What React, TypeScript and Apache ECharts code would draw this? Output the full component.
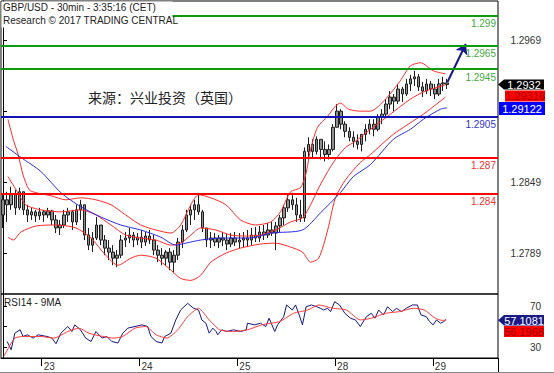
import React, { useEffect, useRef } from 'react';
import * as echarts from 'echarts';

const titleLines = ['GBP/USD - 30min - 3:35:16 (CET)', 'Research © 2017 TRADING CENTRAL'];
const sourceNote = '来源：兴业投资（英国）';
const rsiTitle = 'RSI14 - 9MA';

const slotCount = 122;
const dayStartIdx = [10, 34, 58, 82, 106];
const dayLabels = ['23', '24', '25', '28', '29'];

// [open, close, low, high]
const ohlc = [
  [1.28217, 1.28345, 1.28107, 1.28388], [1.28345, 1.28303, 1.28158, 1.28413], [1.28303, 1.28388, 1.2826, 1.28456],
  [1.28388, 1.28277, 1.28217, 1.2843], [1.28277, 1.28413, 1.2826, 1.28447], [1.28413, 1.2826, 1.28217, 1.28413],
  [1.2826, 1.28217, 1.28158, 1.28303], [1.28217, 1.28243, 1.28175, 1.28277], [1.28243, 1.28209, 1.28158, 1.2826],
  [1.28209, 1.28243, 1.28175, 1.28277], [1.28243, 1.28217, 1.28158, 1.2826], [1.28217, 1.28251, 1.28192, 1.28277],
  [1.28251, 1.28175, 1.28132, 1.2826], [1.28175, 1.28107, 1.28064, 1.28217], [1.28107, 1.28132, 1.28047, 1.28175],
  [1.28132, 1.28217, 1.28107, 1.2826], [1.28217, 1.28243, 1.28158, 1.28277], [1.28243, 1.28158, 1.2809, 1.2826],
  [1.28158, 1.2826, 1.28132, 1.28303], [1.2826, 1.28303, 1.28175, 1.28345], [1.28303, 1.28047, 1.28005, 1.28303],
  [1.28047, 1.27962, 1.2792, 1.28107], [1.27962, 1.28022, 1.27903, 1.28073], [1.28022, 1.28132, 1.28005, 1.282],
  [1.28132, 1.28005, 1.27962, 1.28132], [1.28005, 1.27937, 1.27877, 1.28047], [1.27937, 1.27903, 1.27835, 1.28005],
  [1.27903, 1.27852, 1.27792, 1.27962], [1.27852, 1.27877, 1.27775, 1.2792], [1.27877, 1.28005, 1.27852, 1.28047],
  [1.28005, 1.28022, 1.27945, 1.28073], [1.28022, 1.28047, 1.27979, 1.28107], [1.28047, 1.28005, 1.27945, 1.28073],
  [1.28005, 1.2803, 1.27962, 1.28064], [1.2803, 1.27988, 1.27937, 1.2809], [1.27988, 1.28039, 1.27954, 1.28073],
  [1.28039, 1.28005, 1.27971, 1.2809], [1.28005, 1.2792, 1.27877, 1.28047], [1.2792, 1.27877, 1.27818, 1.27962],
  [1.27877, 1.27852, 1.27792, 1.27937], [1.27852, 1.27903, 1.27784, 1.2792], [1.27903, 1.27818, 1.2775, 1.27937],
  [1.27818, 1.27877, 1.27724, 1.2792], [1.27877, 1.27988, 1.27835, 1.28022], [1.27988, 1.2809, 1.27937, 1.28132],
  [1.2809, 1.28217, 1.28073, 1.2826], [1.28217, 1.2826, 1.28132, 1.28303], [1.2826, 1.28303, 1.28175, 1.28345],
  [1.28303, 1.28243, 1.28217, 1.28388], [1.28243, 1.28107, 1.28073, 1.2826], [1.28107, 1.28005, 1.27945, 1.28107],
  [1.28005, 1.28022, 1.27937, 1.28073], [1.28022, 1.27988, 1.27954, 1.28064], [1.27988, 1.28022, 1.27937, 1.28047],
  [1.28022, 1.28005, 1.27954, 1.28073], [1.28005, 1.27971, 1.2792, 1.28056], [1.27971, 1.28022, 1.27945, 1.28064],
  [1.28022, 1.27988, 1.27954, 1.28073], [1.27988, 1.28005, 1.27937, 1.28064], [1.28005, 1.28022, 1.27945, 1.28073],
  [1.28022, 1.28005, 1.27945, 1.2809], [1.28005, 1.28047, 1.27962, 1.28107], [1.28047, 1.28022, 1.27988, 1.28115],
  [1.28022, 1.28073, 1.27988, 1.28124], [1.28073, 1.28047, 1.28005, 1.28132], [1.28047, 1.2809, 1.28022, 1.28149],
  [1.2809, 1.28064, 1.28039, 1.28158], [1.28064, 1.28124, 1.2792, 1.28158], [1.28124, 1.28192, 1.28073, 1.28217],
  [1.28192, 1.28277, 1.28132, 1.28303], [1.28277, 1.28345, 1.28243, 1.28388], [1.28345, 1.28303, 1.2826, 1.28405],
  [1.28303, 1.28217, 1.28158, 1.28362], [1.28217, 1.28192, 1.28158, 1.28345], [1.28192, 1.28754, 1.28158, 1.28788],
  [1.28754, 1.28813, 1.28686, 1.28873], [1.28813, 1.28754, 1.28703, 1.28856], [1.28754, 1.28856, 1.28728, 1.28881],
  [1.28856, 1.28771, 1.28686, 1.28856], [1.28771, 1.28728, 1.28669, 1.28839], [1.28728, 1.28771, 1.28686, 1.28813],
  [1.28771, 1.28958, 1.28754, 1.28984], [1.28958, 1.29094, 1.28958, 1.29154], [1.29094, 1.28984, 1.28941, 1.29111],
  [1.28984, 1.28924, 1.28873, 1.29009], [1.28924, 1.28873, 1.28839, 1.28958], [1.28873, 1.28839, 1.28788, 1.28924],
  [1.28839, 1.28813, 1.28771, 1.28898], [1.28813, 1.28898, 1.28754, 1.28898], [1.28898, 1.28941, 1.28839, 1.28984],
  [1.28941, 1.28984, 1.28898, 1.29026], [1.28984, 1.28941, 1.28881, 1.29026], [1.28941, 1.29043, 1.28924, 1.29069],
  [1.29043, 1.29069, 1.28984, 1.29111], [1.29069, 1.29154, 1.29043, 1.29196], [1.29154, 1.29213, 1.29111, 1.29264],
  [1.29213, 1.29179, 1.29094, 1.29239], [1.29179, 1.29281, 1.29154, 1.29324], [1.29281, 1.29239, 1.29171, 1.29299],
  [1.29239, 1.29324, 1.29222, 1.29367], [1.29324, 1.29367, 1.29264, 1.29401], [1.29367, 1.29384, 1.29307, 1.29435],
  [1.29384, 1.29299, 1.29264, 1.29409], [1.29299, 1.29264, 1.29213, 1.29341], [1.29264, 1.29324, 1.29239, 1.29367],
  [1.29324, 1.29281, 1.29222, 1.2935], [1.29281, 1.29239, 1.29196, 1.29324], [1.29239, 1.29324, 1.29222, 1.29367],
  [1.29324, 1.29333, 1.29264, 1.29384], [1.29333, 1.2932, 1.29281, 1.29367],
];

// [bar index, price]
const bbUpper = [
  [1.2, 1.29026], [2.5, 1.28856], [3.7, 1.28728], [4.9, 1.28558], [6.4, 1.2843], [8.1, 1.28405], [11.8, 1.28379],
  [15.4, 1.28345], [19.1, 1.28362], [22.8, 1.28345], [26.5, 1.28303], [30.1, 1.28217], [33.8, 1.28132], [37.5, 1.2809],
  [41.2, 1.28064], [43.6, 1.28132], [46.1, 1.28303], [48, 1.28388], [51, 1.28362], [54.7, 1.28303], [58.3, 1.28175],
  [62, 1.28132], [65.7, 1.28158], [68.1, 1.28243], [70.6, 1.28413], [73, 1.28447], [74.3, 1.28558], [75.5, 1.28771],
  [77.2, 1.28958], [79.7, 1.29052], [81.6, 1.29137], [82.8, 1.29162], [84.8, 1.29111], [87.7, 1.29094], [90.2, 1.29094],
  [93.9, 1.29196], [97.5, 1.2935], [100, 1.29477], [102.5, 1.29503], [105.6, 1.29435], [108.6, 1.29409],
];
const bbMid = [
  [1.2, 1.28541], [3.2, 1.2843], [5.6, 1.28303], [9.3, 1.2826], [14.2, 1.28243], [19.1, 1.2826], [22.8, 1.28217],
  [26.5, 1.28132], [30.1, 1.28047], [33.8, 1.28022], [37.5, 1.28005], [41.2, 1.27962], [43.6, 1.27979], [46.1, 1.28047],
  [48.5, 1.28107], [52.2, 1.2809], [55.9, 1.28047], [59.6, 1.28039], [63.2, 1.28047], [66.9, 1.2809], [70.6, 1.28158],
  [73.5, 1.28192], [75.5, 1.28303], [77.5, 1.28447], [79.7, 1.28584], [81.6, 1.28686], [84.1, 1.28788], [86.5, 1.28839],
  [90.2, 1.28941], [95.1, 1.29069], [100, 1.29196], [103.7, 1.29264], [108.6, 1.29316],
];
const bbLower = [
  [1.2, 1.2803], [2.5, 1.28005], [4.4, 1.28073], [8.1, 1.28124], [13, 1.28132], [17.9, 1.28107], [21.6, 1.28022],
  [25.2, 1.27877], [28.2, 1.27792], [31.4, 1.27852], [33.8, 1.27877], [37.5, 1.27852], [40.7, 1.27767], [43.6, 1.27681],
  [46.1, 1.27664], [48.5, 1.27707], [51, 1.27818], [54.7, 1.27894], [58.3, 1.27937], [63.2, 1.27971], [66.9, 1.27979],
  [70.6, 1.27945], [73.5, 1.27903], [75.5, 1.27818], [77.5, 1.27852], [79.7, 1.2809], [81.6, 1.28362], [84.1, 1.28516],
  [87.7, 1.2866], [90.2, 1.28728], [95.8, 1.28898], [103.2, 1.29069], [108.6, 1.29213],
];
const movingAvg = [
  [0.7, 1.28796], [4.4, 1.28703], [9.3, 1.28584], [14.2, 1.28405], [19.1, 1.28286], [24, 1.282], [28.9, 1.28132],
  [33.8, 1.2809], [38.7, 1.2803], [42.4, 1.27962], [44.9, 1.27979], [48.5, 1.28005], [53.4, 1.28022], [60.8, 1.28022],
  [65.7, 1.28064], [73.5, 1.2809], [77.9, 1.28234], [82.8, 1.28405], [86, 1.28541], [90.2, 1.28643], [95.8, 1.28856],
  [100, 1.28941], [103.2, 1.29026], [107.4, 1.29111], [109, 1.29122],
];

const rsi = [
  [1, 35.4], [2, 27.4], [2.9, 43.5], [4.2, 46.8], [4.9, 40.3], [6, 41.9], [7.4, 38.7], [8.6, 41.9], [10.8, 40.3],
  [12, 38.7], [13, 33.2], [14.2, 43.5], [15.9, 50], [16.9, 45.1], [17.6, 51.6], [19, 46.8], [20.3, 38.7], [21.6, 35.4],
  [22.8, 45.1], [24.3, 38.7], [25.5, 40.3], [26.7, 35.4], [28.2, 33.9], [29.4, 43.5], [30.6, 48.4], [32.4, 50],
  [34.1, 51.6], [35.5, 50], [36.3, 40.3], [37.6, 35.4], [39, 33.9], [39.7, 40.3], [41.2, 43.5], [42.4, 56.4],
  [43.6, 66.1], [45.3, 72.6], [46.8, 67.8], [48, 66.1], [48.8, 56.4], [49.8, 53.2], [50.6, 43.5], [51.5, 48.4],
  [52.3, 45.1], [52.7, 41.9], [53.7, 46.8], [54.9, 45.1], [56.6, 46.8], [58.3, 45.1], [59.7, 46.8], [60, 53.2],
  [61.8, 51.6], [63.2, 53.2], [64.5, 50], [65.3, 58.1], [66.7, 45.1], [67.4, 51.6], [68.9, 59.6], [69.6, 71],
  [71, 66.1], [71.8, 71], [72.7, 61.3], [73.5, 51.6], [74.4, 69.3], [75.7, 71], [77, 69.3], [77.9, 67.8], [78.7, 66.1],
  [79.7, 67.8], [80.4, 64.5], [81.4, 74.2], [82.6, 71], [83.9, 62.9], [85.3, 58.1], [86.5, 56.4], [87.7, 50],
  [89.2, 59.6], [90.4, 62.9], [91.3, 58.1], [92.2, 66.1], [93.4, 61.3], [94.4, 69.3], [95.6, 64.5], [96.6, 67.8],
  [97.8, 64.5], [99, 67.8], [100.5, 71], [101.7, 71], [102.6, 61.3], [103.9, 59.6], [104.7, 54.8], [105.6, 51.6],
  [106.4, 56.4], [107.4, 53.2], [108.2, 54.8], [108.8, 57.1081],
];
const rsiMa = [
  [0.2, 20.9], [2.9, 38.7], [5.6, 40.3], [9.1, 40.3], [12.5, 38.7], [15.9, 45.1], [18.6, 48.4], [21.1, 43.5],
  [24.5, 40.3], [27.2, 38.7], [29.4, 40.3], [32.4, 48.4], [35, 50], [37.6, 41.9], [40.2, 38.7], [42.9, 46.8],
  [45.3, 59.6], [48, 67.8], [50.6, 56.4], [53.2, 46.8], [56.6, 45.1], [60, 46.8], [63.5, 51.6], [67.9, 54.8],
  [71.3, 62.9], [74.8, 66.1], [77.5, 71], [80.9, 67.8], [84.3, 66.1], [87.7, 56.4], [90.4, 58.1], [93.9, 62.9],
  [97.3, 64.5], [100.7, 67.8], [103.4, 66.1], [106.1, 58.1], [107.8, 56], [108.8, 56.1968],
];

const greenLevels = [1.299, 1.2965, 1.2945];
const blueLevels = [1.2905];
const redLevels = [1.287, 1.284];
const priceTicks = [1.2969, 1.2909, 1.2849, 1.2789];
const priceLabelValues = [1.2969, 1.2849, 1.2789];
const rsiTicks = [30, 50, 70];
const rsiLabelValues = [30, 70];
const arrowFrom = [109.1, 1.29341];
const arrowTo = [113.6, 1.29662];

const lastClose = '1.2932';
const lastMid = '1.29316';
const lastMa = '1.29122';
const lastRsi = '57.1081';
const lastRsiMa = '56.1968';

const FONT = '"Liberation Sans", Arial, sans-serif';
const GREEN = '#109a10';
const GREEN_TXT = '#3fa83f';
const BLUE = '#1414b4';
const RED = '#ff0000';
const RED_TXT = '#f03030';

export default function App() {
  const ref = useRef<HTMLDivElement>(null);
  useEffect(() => {
    if (!ref.current) return;
    const chart = echarts.init(ref.current, undefined, { renderer: 'svg' });
    const cats = ohlc.map((_, i) => String(i)).concat(
      Array.from({ length: slotCount - ohlc.length }, (_, k) => String(ohlc.length + k))
    );
    const isDayStart = (index: number) => dayStartIdx.indexOf(index) >= 0;
    const levelItem = (v: number, color: string, txt: string) => ({
      yAxis: v,
      lineStyle: { color, width: 2, type: 'solid' },
      label: {
        show: true,
        position: 'insideEndBottom',
        formatter: () => String(v),
        color: txt,
        fontSize: 10,
        fontFamily: FONT,
        distance: [2, 3],
      },
    });
    const lineSeries = (name: string, data: number[][], color: string, xi: number, yi: number, smooth = 0.25) => ({
      name,
      type: 'line',
      xAxisIndex: xi,
      yAxisIndex: yi,
      data,
      symbol: 'none',
      showSymbol: false,
      smooth,
      silent: true,
      lineStyle: { color, width: 1 },
    });

    const option: any = {
      animation: false,
      backgroundColor: '#ffffff',
      grid: [
        { left: 1, top: 1, width: 497, height: 293, show: true, borderColor: '#000', borderWidth: 1 },
        { left: 1, top: 294, width: 497, height: 64, show: true, borderColor: '#000', borderWidth: 1 },
      ],
      xAxis: [
        { type: 'category', gridIndex: 0, data: cats, boundaryGap: true, show: false },
        { type: 'value', gridIndex: 0, min: -0.5, max: slotCount - 0.5, show: false },
        {
          type: 'category',
          gridIndex: 1,
          data: cats,
          boundaryGap: true,
          axisLine: { show: true, lineStyle: { color: '#000', width: 1 } },
          axisTick: { show: true, interval: (i: number) => isDayStart(i), length: 8, lineStyle: { color: '#000' } },
          axisLabel: {
            interval: (i: number) => isDayStart(i),
            formatter: (_v: string, i: number) => {
              const k = dayStartIdx.indexOf(i);
              return k >= 0 ? dayLabels[k] : '';
            },
            align: 'left',
            margin: 3,
            fontSize: 10,
            color: '#333',
            fontFamily: FONT,
          },
          splitLine: { show: false },
        },
        { type: 'value', gridIndex: 1, min: -0.5, max: slotCount - 0.5, show: false },
      ],
      yAxis: [
        {
          type: 'value',
          gridIndex: 0,
          position: 'right',
          min: 1.27549,
          max: 1.30025,
          splitLine: { show: false },
          axisLine: { show: true, lineStyle: { color: '#000' } },
          axisTick: { show: true, length: 4, customValues: priceTicks, lineStyle: { color: '#000' } },
          axisLabel: {
            customValues: priceLabelValues,
            formatter: (v: number) => v.toFixed(4),
            align: 'right',
            margin: 43,
            fontSize: 10,
            color: '#333',
            fontFamily: FONT,
          },
        },
        {
          type: 'value',
          gridIndex: 1,
          position: 'right',
          min: 19.3,
          max: 81.7,
          splitLine: { show: false },
          axisLine: { show: true, lineStyle: { color: '#000' } },
          axisTick: { show: true, length: 4, customValues: rsiTicks, lineStyle: { color: '#000' } },
          axisLabel: {
            customValues: rsiLabelValues,
            formatter: (v: number) => String(v),
            align: 'right',
            margin: 43,
            fontSize: 10,
            color: '#333',
            fontFamily: FONT,
          },
        },
      ],
      series: [
        lineSeries('BB Upper', bbUpper, '#ff2a2a', 1, 0),
        lineSeries('BB Mid', bbMid, '#ff2a2a', 1, 0),
        lineSeries('BB Lower', bbLower, '#ff2a2a', 1, 0),
        {
          ...lineSeries('MA', movingAvg, '#2a2ae6', 1, 0),
          markLine: {
            silent: true,
            precision: 6,
            symbol: ['none', 'arrow'],
            symbolSize: 10,
            label: { show: false },
            lineStyle: { color: '#17178c', width: 2, type: 'solid', curveness: 0.12 },
            data: [[{ coord: arrowFrom }, { coord: arrowTo }]],
          },
        },
        {
          name: 'GBP/USD',
          type: 'candlestick',
          xAxisIndex: 0,
          yAxisIndex: 0,
          data: ohlc,
          barWidth: 3,
          silent: true,
          itemStyle: {
            color: '#8f8f8f',
            color0: '#8f8f8f',
            borderColor: '#1e1e1e',
            borderColor0: '#1e1e1e',
            borderWidth: 1,
          },
          markLine: {
            silent: true,
            precision: 6,
            symbol: ['none', 'none'],
            data: [
              ...greenLevels.map((v) => levelItem(v, GREEN, GREEN_TXT)),
              ...blueLevels.map((v) => levelItem(v, BLUE, '#3434d0')),
              ...redLevels.map((v) => levelItem(v, RED, RED_TXT)),
            ],
          },
        },
        lineSeries('RSI14', rsi, '#161682', 3, 1, 0),
        lineSeries('RSI MA', rsiMa, '#ff3a3a', 3, 1, 0.2),
      ],
      graphic: [
        { type: 'rect', shape: { x: 1.5, y: 1.5, width: 171, height: 26 }, style: { fill: '#fff' }, z: 50 },
        {
          type: 'text',
          x: 3,
          y: 1,
          z: 51,
          style: { text: titleLines.join('\n'), fill: '#222', font: `10px ${FONT}`, lineHeight: 13 },
        },
        {
          type: 'text',
          x: 88,
          y: 97,
          z: 51,
          style: { text: sourceNote, fill: '#222', font: '14px "Noto Sans CJK SC", sans-serif', verticalAlign: 'middle' },
        },
        {
          type: 'text',
          x: 4,
          y: 302,
          z: 51,
          style: { text: rsiTitle, fill: '#222', font: `10px ${FONT}`, verticalAlign: 'middle' },
        },
        {
          type: 'polygon',
          z: 60,
          shape: { points: [[498, 84.5], [504, 79.5], [544, 79.5], [544, 89.5], [504, 89.5]] },
          style: { fill: '#000' },
        },
        {
          type: 'text', x: 524, y: 84.8, z: 61,
          style: { text: lastClose, fill: '#fff', font: `11px ${FONT}`, align: 'center', verticalAlign: 'middle' },
        },
        { type: 'rect', z: 60, shape: { x: 505, y: 90.5, width: 40, height: 11 }, style: { fill: '#ff0000' } },
        {
          type: 'text', x: 525, y: 96.3, z: 61,
          style: { text: lastMid, fill: '#9c0000', font: `11px ${FONT}`, align: 'center', verticalAlign: 'middle' },
        },
        { type: 'rect', z: 60, shape: { x: 499, y: 102, width: 46, height: 13 }, style: { fill: '#0000ff' } },
        {
          type: 'text', x: 522, y: 108.8, z: 61,
          style: { text: lastMa, fill: '#fff', font: `11px ${FONT}`, align: 'center', verticalAlign: 'middle' },
        },
        {
          type: 'polygon',
          z: 60,
          shape: { points: [[498, 320.3], [504, 315], [544, 315], [544, 325.6], [504, 325.6]] },
          style: { fill: '#1a1a84' },
        },
        {
          type: 'text', x: 524, y: 320.6, z: 61,
          style: { text: lastRsi, fill: '#fff', font: `11px ${FONT}`, align: 'center', verticalAlign: 'middle' },
        },
        { type: 'rect', z: 60, shape: { x: 504, y: 326, width: 40, height: 11 }, style: { fill: '#ff0000' } },
        {
          type: 'text', x: 524, y: 331.8, z: 61,
          style: { text: lastRsiMa, fill: '#9c0000', font: `11px ${FONT}`, align: 'center', verticalAlign: 'middle' },
        },
        { type: 'line', z: 60, shape: { x1: 498.5, y1: 358, x2: 498.5, y2: 373 }, style: { stroke: '#000', lineWidth: 1 } },
        { type: 'line', z: 60, shape: { x1: 0, y1: 372.5, x2: 554, y2: 372.5 }, style: { stroke: '#888', lineWidth: 1 } },
      ],
    };
    chart.setOption(option);
    return () => chart.dispose();
  }, []);
  return (
    <div
      ref={ref}
      style={{ position: 'fixed', left: 0, top: 0, width: 554, height: 373, background: '#fff' }}
    />
  );
}
